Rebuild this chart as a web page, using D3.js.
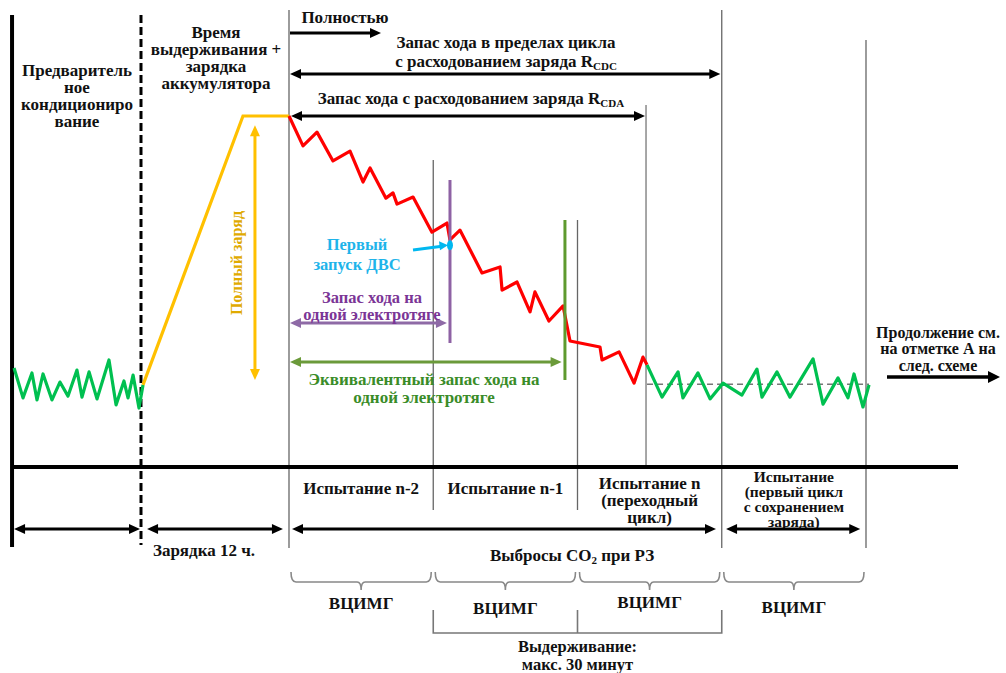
<!DOCTYPE html>
<html>
<head>
<meta charset="utf-8">
<script src="https://cdn.jsdelivr.net/npm/d3@7"></script>
<style>
  body { margin: 0; background: #fff; }
  text { font-family: "Liberation Serif", "Times New Roman", serif; font-weight: bold; }
</style>
</head>
<body>
<div id="chart"></div>
<script>
// x in test cycles (0 = start of charge depleting), y in state of charge, %
const cycleBounds = [0, 1, 2, 3, 4];
const precondition = -1.92;
const chargeEnd = -1.026;
const rcdaEnd = 2.475;
const evOnlyEnd = 1.116;
const equivEnd = 1.913;

const preconditionTrace = [
  [-1.906, 28.2], [-1.844, 19.7], [-1.782, 26.8], [-1.747, 19.1], [-1.705, 26.5],
  [-1.643, 19.1], [-1.588, 24.2], [-1.532, 20.2], [-1.470, 27.6], [-1.435, 19.9],
  [-1.386, 27.1], [-1.331, 19.4], [-1.248, 30.5], [-1.199, 17.7], [-1.144, 24.5],
  [-1.116, 19.7], [-1.081, 26.2], [-1.040, 16.8], [-1.012, 23.4]
];
const chargeTrace = [[-1.012, 23.4], [-0.319, 100], [0, 100]];
const depletingTrace = [
  [0, 100], [0.097, 91.5], [0.194, 95.4], [0.305, 87.2], [0.423, 90.0],
  [0.513, 81.2], [0.562, 85.2], [0.672, 76.6], [0.721, 78.1], [0.749, 74.9],
  [0.860, 76.9], [0.991, 66.9], [1.095, 69.5], [1.116, 64.7], [1.185, 67.5],
  [1.338, 55.3], [1.463, 57.0], [1.477, 50.4], [1.581, 52.7], [1.671, 44.2],
  [1.705, 49.9], [1.802, 41.6], [1.900, 45.9], [1.948, 35.9], [2.156, 34.2],
  [2.170, 30.5], [2.288, 32.8], [2.392, 23.9], [2.454, 31.3], [2.482, 29.1]
];
const sustainingTrace = [
  [2.482, 29.1], [2.586, 19.9], [2.697, 27.1], [2.731, 19.7], [2.835, 26.8],
  [2.919, 19.4], [3.009, 23.9], [3.140, 20.5], [3.244, 27.9], [3.279, 19.9],
  [3.383, 27.1], [3.473, 19.9], [3.633, 30.8], [3.702, 17.9], [3.806, 25.4],
  [3.875, 19.7], [3.917, 26.5], [3.979, 17.1], [4.021, 23.4]
];
const sustainLevel = 23.6;
const fullChargeRange = [97.4, 24.8];
const engineStart = [1.116, 63.2];

const testLabels = [
  ["Испытание n-2"],
  ["Испытание n-1"],
  ["Испытание n", "(переходный", "цикл)"],
  ["Испытание", "(первый цикл", "с сохранением", "заряда)"]
];
const cycleName = "ВЦИМГ";

const width = 1006, height = 673;
const x = d3.scaleLinear().domain([0, 4]).range([289, 866]);
const y = d3.scaleLinear().domain([0, 100]).range([467, 116]);
const axisY = y(0);

const svg = d3.select("#chart").append("svg")
  .attr("width", width).attr("height", height);

const line = d3.line().x(d => x(d[0])).y(d => y(d[1]));

function hArrow(yy, x0, x1, o = {}) {
  const c = o.color || "#000", w = o.width || 3, L = o.len || 11, hw = o.hw || 5;
  const a = o.start ? x0 + L - 2 : x0, b = o.end !== false ? x1 - L + 2 : x1;
  svg.append("line").attr("x1", a).attr("x2", b).attr("y1", yy).attr("y2", yy)
    .attr("stroke", c).attr("stroke-width", w);
  if (o.end !== false)
    svg.append("path").attr("d", `M${x1},${yy} L${x1 - L},${yy - hw} L${x1 - L},${yy + hw} Z`).attr("fill", c);
  if (o.start)
    svg.append("path").attr("d", `M${x0},${yy} L${x0 + L},${yy - hw} L${x0 + L},${yy + hw} Z`).attr("fill", c);
}

function vArrow(xx, y0, y1, o = {}) {
  const c = o.color || "#000", w = o.width || 3, L = o.len || 11, hw = o.hw || 5;
  svg.append("line").attr("x1", xx).attr("x2", xx).attr("y1", y0 + L - 2).attr("y2", y1 - L + 2)
    .attr("stroke", c).attr("stroke-width", w);
  svg.append("path").attr("d", `M${xx},${y0} L${xx - hw},${y0 + L} L${xx + hw},${y0 + L} Z`).attr("fill", c);
  svg.append("path").attr("d", `M${xx},${y1} L${xx - hw},${y1 - L} L${xx + hw},${y1 - L} Z`).attr("fill", c);
}

function textBlock(cx, cy, lh, lines, o = {}) {
  const t = svg.append("text")
    .attr("text-anchor", "middle")
    .attr("font-size", o.size || 17)
    .attr("fill", o.color || "#111");
  lines.forEach((s, i) => {
    t.append("tspan").attr("x", cx).attr("y", cy + i * lh + 5.5).text(s);
  });
  return t;
}

// phase separators
svg.append("line").attr("x1", x(precondition)).attr("x2", x(precondition))
  .attr("y1", 15).attr("y2", 547).attr("stroke", "#000").attr("stroke-width", 4);
svg.append("line").attr("x1", x(chargeEnd)).attr("x2", x(chargeEnd))
  .attr("y1", 15).attr("y2", 545).attr("stroke", "#000").attr("stroke-width", 3)
  .attr("stroke-dasharray", "8,4");

const sepSpans = [[10, 548], [160, 510], [220, 510], [10, 548], [40, 548]];
cycleBounds.forEach((t, i) => {
  svg.append("line").attr("x1", x(t)).attr("x2", x(t))
    .attr("y1", sepSpans[i][0]).attr("y2", sepSpans[i][1])
    .attr("stroke", "#666").attr("stroke-width", 1.3);
});
svg.append("line").attr("x1", x(rcdaEnd)).attr("x2", x(rcdaEnd))
  .attr("y1", 105).attr("y2", axisY).attr("stroke", "#777").attr("stroke-width", 1.3);

// time axis
svg.append("line").attr("x1", x(precondition)).attr("x2", 958)
  .attr("y1", axisY).attr("y2", axisY).attr("stroke", "#000").attr("stroke-width", 4);

// charge-sustaining level
svg.append("line").attr("x1", x(sustainingTrace[0][0])).attr("x2", x(4.021))
  .attr("y1", y(sustainLevel)).attr("y2", y(sustainLevel))
  .attr("stroke", "#777").attr("stroke-width", 1.5).attr("stroke-dasharray", "6,4");

// SOC traces
svg.append("path").attr("d", line(preconditionTrace)).attr("fill", "none")
  .attr("stroke", "#00C050").attr("stroke-width", 3.2).attr("stroke-linejoin", "round");
svg.append("path").attr("d", line(sustainingTrace)).attr("fill", "none")
  .attr("stroke", "#00C050").attr("stroke-width", 3.2).attr("stroke-linejoin", "round");
svg.append("path").attr("d", line(chargeTrace)).attr("fill", "none")
  .attr("stroke", "#FFC000").attr("stroke-width", 3.2);
svg.append("path").attr("d", line(depletingTrace)).attr("fill", "none")
  .attr("stroke", "#FF0000").attr("stroke-width", 3.2).attr("stroke-linejoin", "round");

// EV-only range & equivalent markers
svg.append("line").attr("x1", x(evOnlyEnd)).attr("x2", x(evOnlyEnd))
  .attr("y1", 180).attr("y2", 343).attr("stroke", "#8E62A4").attr("stroke-width", 3);
svg.append("line").attr("x1", x(equivEnd)).attr("x2", x(equivEnd))
  .attr("y1", 220).attr("y2", 380).attr("stroke", "#5E9A2E").attr("stroke-width", 3);

hArrow(323, x(0) + 1, x(1.095), { start: true, color: "#8E6AA6" });
hArrow(362, x(0) + 1, x(1.89), { start: true, color: "#6B9A3A" });

// full charge
vArrow(x(-0.236), y(fullChargeRange[0]), y(fullChargeRange[1]), { color: "#FFC000" });
svg.append("text").attr("transform", `translate(${x(-0.236) - 18},263) rotate(-90)`)
  .attr("text-anchor", "middle").attr("dominant-baseline", "central")
  .attr("font-size", 16).attr("fill", "#E0AA00").text("Полный заряд");

// first engine start
svg.append("line").attr("x1", 413).attr("y1", 250).attr("x2", x(engineStart[0]) - 8).attr("y2", y(engineStart[1]) + 1)
  .attr("stroke", "#00B8F0").attr("stroke-width", 3);
svg.append("path").attr("d", `M${x(engineStart[0]) - 2},${y(engineStart[1])} l-9,-4 l1,9 Z`).attr("fill", "#00B8F0");
svg.append("ellipse").attr("cx", x(engineStart[0])).attr("cy", y(engineStart[1]))
  .attr("rx", 3).attr("ry", 5).attr("fill", "#00B8F0");
textBlock(357, 244, 20, ["Первый", "запуск ДВС"], { color: "#1EB4EA", size: 16.5 });

textBlock(372, 297, 17, ["Запас хода на", "одной электротяге"], { color: "#7B3596", size: 16.5 });
textBlock(424, 379, 18, ["Эквивалентный запас хода на", "одной электротяге"], { color: "#3A8C28" });

// top range arrows
textBlock(345, 17, 17, ["Полностью"]);
hArrow(33, x(0) + 1, 381);
const cdc = textBlock(506, 42, 19, ["Запас хода в пределах цикла", "с расходованием заряда R"]);
cdc.select("tspan:last-child").append("tspan").attr("font-size", 11).attr("dy", 3).text("CDC");
hArrow(74, x(0) + 1, x(2.99), { start: true });
const cda = textBlock(471, 98, 17, ["Запас хода с расходованием заряда R"]);
cda.select("tspan").append("tspan").attr("font-size", 11).attr("dy", 3).text("CDA");
hArrow(116, x(0) + 2, x(rcdaEnd) - 1, { start: true });

// left phase labels
textBlock(77, 70, 17, ["Предваритель", "ное", "кондициониро", "вание"]);
textBlock(216, 32, 17, ["Время", "выдерживания +", "зарядка", "аккумулятора"]);

// continuation
textBlock(938, 332, 16.5, ["Продолжение см.", "на отметке А на", "след. схеме"], { size: 16 });
hArrow(377, 887, 1000, { width: 3.5, len: 12, hw: 6 });

// test labels
const labelTop = [488, 488, 483, 476];
const labelLh = [17, 17, 17, 15.3];
const labelSize = [17, 17, 17, 15.5];
testLabels.forEach((ls, i) => {
  textBlock(x(i + 0.5), labelTop[i], labelLh[i], ls, { size: labelSize[i] });
});

// bottom duration arrows
hArrow(529, x(-1.906), x(-1.033), { start: true });
hArrow(529, x(-0.984), x(-0.042), { start: true });
hArrow(529, x(0.021), x(2.96), { start: true });
hArrow(529, x(3.03), x(3.96), { start: true });
textBlock(204, 550, 17, ["Зарядка 12 ч."]);
const co2 = textBlock(572, 555, 17, ["Выбросы CO"]);
co2.select("tspan").append("tspan").attr("font-size", 11).attr("dy", 3).text("2");
co2.select("tspan").append("tspan").attr("dy", -3).text(" при РЗ");

// braces for each cycle
const braceTextY = [603, 608, 602, 607];
cycleBounds.slice(0, 4).forEach((t, i) => {
  const a = x(t) + 2, b = x(t + 1) - 2, m = (a + b) / 2, t0 = 572, t1 = 582;
  svg.append("path")
    .attr("d", `M${a},${t0} Q${a},${t1} ${a + 5},${t1} L${m - 4},${t1} Q${m},${t1} ${m},${t1 + 8} Q${m},${t1} ${m + 4},${t1} L${b - 5},${t1} Q${b},${t1} ${b},${t0}`)
    .attr("fill", "none").attr("stroke", "#888").attr("stroke-width", 1.6);
  textBlock(m, braceTextY[i], 17, [cycleName]);
});

// soak bracket
svg.append("path")
  .attr("d", `M${x(1)},610 L${x(1)},633 L${x(3)},633 L${x(3)},610 M${x(2)},610 L${x(2)},633`)
  .attr("fill", "none").attr("stroke", "#777").attr("stroke-width", 1.6);
textBlock(x(2), 646, 18, ["Выдерживание:", "макс. 30 минут"], { size: 16.5 });
</script>
</body>
</html>
